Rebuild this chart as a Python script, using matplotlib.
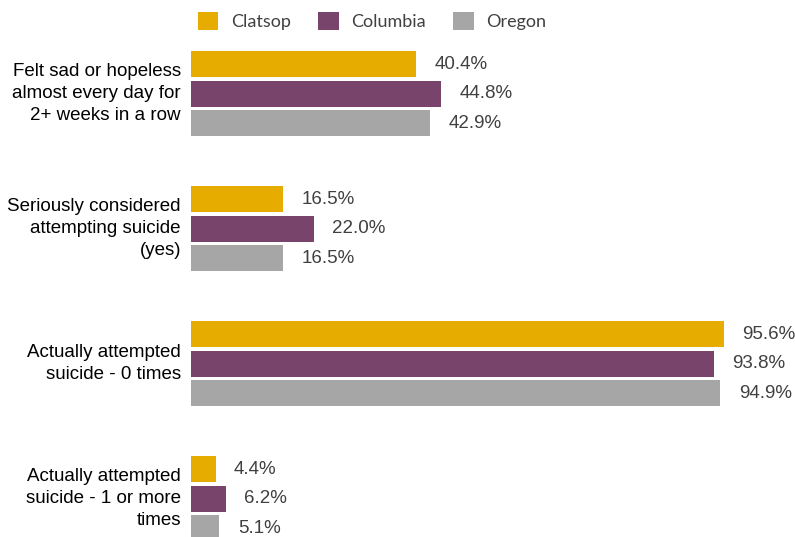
import numpy as np
import matplotlib.pyplot as plt
from matplotlib.patches import Patch

categories = [
    "Felt sad or hopeless\nalmost every day for\n2+ weeks in a row",
    "Seriously considered\nattempting suicide\n(yes)",
    "Actually attempted\nsuicide - 0 times",
    "Actually attempted\nsuicide - 1 or more\ntimes",
]
series = ["Clatsop", "Columbia", "Oregon"]
clatsop = [40.4, 16.5, 95.6, 4.4]
columbia = [44.8, 22.0, 93.8, 6.2]
oregon = [42.9, 16.5, 94.9, 5.1]
colors = ["#E6AC00", "#78446B", "#A6A6A6"]

fig = plt.figure(figsize=(7.95, 5.37), dpi=100)
ax = fig.add_axes([191 / 795, 0, 604 / 795, 1])

y = np.arange(len(categories))
offset = 0.2185
height = 0.193

for i, (vals, col) in enumerate(zip([clatsop, columbia, oregon], colors)):
    pos = y + (i - 1) * offset
    ax.barh(pos, vals, height=height, color=col, linewidth=0)
    for p, v in zip(pos, vals):
        ax.text(v + 3.3, p, f"{v:.1f}%", va="center", ha="left",
                fontsize=13.5, color="#404040", family="Liberation Sans",
                clip_on=False)

for yi, cat in zip(y, categories):
    ax.text(-1.8, yi, cat, ha="right", va="center", fontsize=13.5,
            color="black", family="Liberation Sans", linespacing=1.4,
            clip_on=False)

ax.set_xlim(0, 108.3)
ax.set_ylim(3.285, -0.693)
ax.axis("off")

handles = [Patch(facecolor=c, edgecolor="none") for c in colors]
fig.legend(handles, series, loc="upper left", bbox_to_anchor=(0.228, 1.008),
           ncol=3, frameon=False, prop={"family": "Lato", "size": 13},
           labelcolor="#404040", handlelength=1.15, handleheight=1.15,
           handletextpad=0.7, columnspacing=1.5)

fig.savefig("out.png", dpi=100)
